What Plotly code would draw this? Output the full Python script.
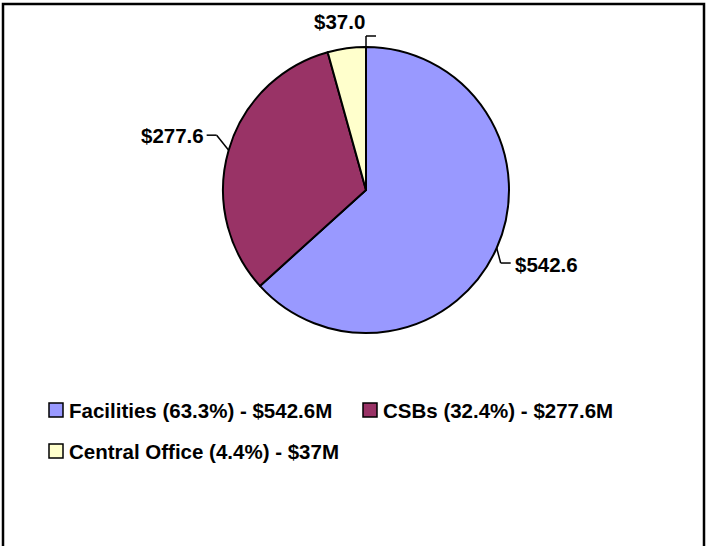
import math
import plotly.graph_objects as go

# data
labels = ["Facilities", "CSBs", "Central Office"]
values = [542.6, 277.6, 37.0]
percents = [63.3, 32.4, 4.4]
colors = ["#9999FF", "#993366", "#FFFFCC"]

W, H = 707, 546
CX, CY, R = 366, 190, 143
FONT = "Liberation Sans, Arial, sans-serif"
FS = 20.5


def px(x, y):
    return x / W, 1 - y / H


def edge_point(angle_deg):
    a = math.radians(angle_deg)
    return CX + R * math.sin(a), CY - R * math.cos(a)


fig = go.Figure()
fig.add_trace(go.Pie(
    labels=labels,
    values=values,
    sort=False,
    direction="clockwise",
    rotation=0,
    textinfo="none",
    hoverinfo="label+value+percent",
    marker=dict(colors=colors, line=dict(color="black", width=2)),
    showlegend=False,
    domain=dict(x=[(CX - R) / W, (CX + R) / W], y=[1 - (CY + R) / H, 1 - (CY - R) / H]),
))

# slice angles (clockwise from 12 o'clock)
total = sum(values)
mids, ends = [], []
acc = 0.0
for v in values:
    mids.append((acc + v / 2) / total * 360)
    acc += v
    ends.append(acc / total * 360)

shapes = []
annotations = []


def line(x0, y0, x1, y1):
    a0 = px(x0, y0)
    a1 = px(x1, y1)
    shapes.append(dict(type="line", xref="paper", yref="paper",
                       x0=a0[0], y0=a0[1], x1=a1[0], y1=a1[1],
                       line=dict(color="black", width=1.5)))


def label(text, x, y, anchor):
    p = px(x, y)
    annotations.append(dict(text=text, x=p[0], y=p[1], xref="paper", yref="paper",
                            xanchor=anchor, yanchor="middle", showarrow=False,
                            font=dict(family=FONT, size=FS, color="black")))


fmt = ["${:.1f}".format(v) for v in values]

# Facilities - label to the lower right
ex, ey = edge_point(mids[0])
line(ex, ey, ex + 4, ey + 15)
line(ex + 4, ey + 15, ex + 14, ey + 15)
label("<b>%s</b>" % fmt[0], ex + 16, ey + 16, "left")

# CSBs - label to the upper left
ex, ey = edge_point(mids[1])
line(ex, ey, ex - 12, ey - 15)
line(ex - 12, ey - 15, ex - 22, ey - 15)
label("<b>%s</b>" % fmt[1], ex - 23, ey - 15, "right")

# Central Office - label above
ex, ey = edge_point(ends[2])
line(ex, ey, ex, ey - 11)
line(ex, ey - 11, ex + 10, ey - 11)
label("<b>%s</b>" % fmt[2], ex + 1, ey - 25, "right")

# legend, drawn by hand to match the spacing
legend_pos = [(49, 410), (363, 410), (49, 451)]
for i, (lx, ly) in enumerate(legend_pos):
    a0 = px(lx, ly - 7)
    a1 = px(lx + 14, ly + 7)
    shapes.append(dict(type="rect", xref="paper", yref="paper",
                       x0=a0[0], y0=a0[1], x1=a1[0], y1=a1[1],
                       fillcolor=colors[i], line=dict(color="black", width=1.5)))
    text = "<b>{} ({:.1f}%) - ${:g}M</b>".format(labels[i], percents[i], values[i])
    p = px(lx + 18, ly)
    annotations.append(dict(text=text, x=p[0], y=p[1], xref="paper", yref="paper",
                            xanchor="left", yanchor="middle", showarrow=False,
                            font=dict(family=FONT, size=FS, color="black")))

# outer chart frame
f0 = px(3, 620)
f1 = px(704, 4)
shapes.append(dict(type="rect", xref="paper", yref="paper",
                   x0=f0[0], y0=f0[1], x1=f1[0], y1=f1[1],
                   line=dict(color="black", width=2.5), layer="below"))

fig.update_layout(
    width=W,
    height=H,
    margin=dict(l=0, r=0, t=0, b=0),
    paper_bgcolor="white",
    plot_bgcolor="white",
    shapes=shapes,
    annotations=annotations,
    font=dict(family=FONT),
)

fig.write_html("out.html", config={"displayModeBar": False},
               post_script="document.body.style.margin='0';")
